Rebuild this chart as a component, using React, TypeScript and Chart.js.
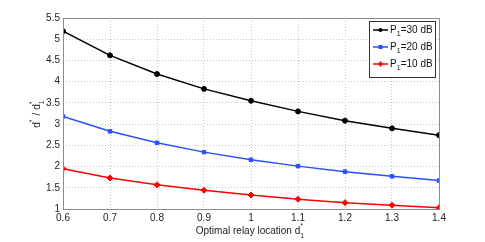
import React, { useEffect, useRef } from "react";
import { Chart, registerables } from "chart.js";

Chart.register(...registerables);

const relayLocations = [0.6, 0.7, 0.8, 0.9, 1.0, 1.1, 1.2, 1.3, 1.4];
const ratio30dB = [5.19, 4.62, 4.18, 3.83, 3.55, 3.3, 3.08, 2.9, 2.74];
const ratio20dB = [3.18, 2.83, 2.56, 2.34, 2.16, 2.01, 1.88, 1.77, 1.67];
const ratio10dB = [1.95, 1.73, 1.57, 1.44, 1.33, 1.23, 1.15, 1.09, 1.03];
const seriesNames = ["30", "20", "10"];
const seriesColors = ["#000000", "#2a4fff", "#ff0000"];
const seriesMarkers = ["circle", "rect", "rectRot"];

const FONT = "'Liberation Sans', Arial, sans-serif";

const overlayPlugin = {
  id: "overlay",
  afterDraw(chart: any) {
    const ctx = chart.ctx as CanvasRenderingContext2D;
    const ca = chart.chartArea;
    ctx.save();
    // frame
    ctx.strokeStyle = "#8c8c8c";
    ctx.lineWidth = 1;
    ctx.strokeRect(Math.round(ca.left) + 0.5, Math.round(ca.top) + 0.5, Math.round(ca.right - ca.left), Math.round(ca.bottom - ca.top));

    // x title
    ctx.fillStyle = "#222";
    ctx.font = `10px ${FONT}`;
    ctx.textBaseline = "alphabetic";
    const xt = "Optimal relay location d";
    const xw = ctx.measureText(xt).width;
    const xcx = (ca.left + ca.right) / 2;
    const xx = xcx - (xw + 6) / 2;
    const xy = 234;
    ctx.textAlign = "left";
    ctx.fillText(xt, xx, xy);
    ctx.font = `7px ${FONT}`;
    ctx.fillText("*", xx + xw, xy - 6);
    ctx.fillText("1", xx + xw, xy + 4);

    // y title
    ctx.save();
    ctx.translate(40, (ca.top + ca.bottom) / 2);
    ctx.rotate(-Math.PI / 2);
    ctx.font = `10px ${FONT}`;
    const p1 = "d";
    const p2 = " / d";
    const w1 = ctx.measureText(p1).width;
    const w2 = ctx.measureText(p2).width;
    const total = w1 + 4 + w2 + 5;
    let sx = -total / 2;
    ctx.fillText(p1, sx, 0);
    ctx.font = `7px ${FONT}`;
    ctx.fillText("*", sx + w1, -6);
    sx += w1 + 4;
    ctx.font = `10px ${FONT}`;
    ctx.fillText(p2, sx, 0);
    ctx.font = `7px ${FONT}`;
    ctx.fillText("*", sx + w2, -6);
    ctx.fillText("1", sx + w2, 4);
    ctx.restore();

    // legend
    const bx = 369.5, by = 21.5, bw = 66, bh = 56;
    ctx.fillStyle = "#fff";
    ctx.fillRect(bx, by, bw, bh);
    ctx.strokeStyle = "#333";
    ctx.strokeRect(bx, by, bw, bh);
    const rows = [30, 47, 64];
    seriesNames.forEach((name, i) => {
      const y = rows[i];
      ctx.strokeStyle = seriesColors[i];
      ctx.lineWidth = 1.5;
      ctx.beginPath();
      ctx.moveTo(373, y);
      ctx.lineTo(388, y);
      ctx.stroke();
      ctx.fillStyle = seriesColors[i];
      ctx.beginPath();
      if (i === 0) ctx.arc(380.5, y, 2, 0, Math.PI * 2);
      else if (i === 1) ctx.rect(378.5, y - 2, 4, 4);
      else {
        ctx.moveTo(380.5, y - 3);
        ctx.lineTo(383, y);
        ctx.lineTo(380.5, y + 3);
        ctx.lineTo(378, y);
        ctx.closePath();
      }
      ctx.fill();
      ctx.fillStyle = "#111";
      ctx.font = `10px ${FONT}`;
      ctx.textBaseline = "middle";
      ctx.fillText("P", 390, y);
      const pw = ctx.measureText("P").width;
      ctx.font = `7px ${FONT}`;
      ctx.fillText("1", 390 + pw, y + 4);
      ctx.font = `10px ${FONT}`;
      ctx.fillText(`=${name} dB`, 390 + pw + 4, y);
    });
    ctx.restore();
  },
};

export default function App() {
  const ref = useRef<HTMLCanvasElement>(null);
  useEffect(() => {
    document.body.style.margin = "0";
    const datasets = [ratio30dB, ratio20dB, ratio10dB].map((vals, i) => ({
      label: `P1=${seriesNames[i]} dB`,
      data: relayLocations.map((x, j) => ({ x, y: vals[j] })),
      borderColor: seriesColors[i],
      backgroundColor: seriesColors[i],
      borderWidth: 1.5,
      pointStyle: seriesMarkers[i] as any,
      pointRadius: i === 2 ? 3 : 2.5,
      pointBorderWidth: 1,
      tension: 0,
    }));
    const chart = new Chart(ref.current!, {
      type: "line",
      data: { datasets },
      plugins: [overlayPlugin],
      options: {
        animation: false,
        responsive: false,
        events: [],
        layout: { padding: { left: 0, right: 46, top: 18, bottom: 0 } },
        plugins: { legend: { display: false }, tooltip: { enabled: false } },
        scales: {
          x: {
            type: "linear",
            min: 0.6,
            max: 1.4,
            border: { display: false, dash: [1, 2] },
            grid: { color: "#c8c8c8", lineWidth: 1, drawTicks: false },
            ticks: {
              stepSize: 0.1,
              padding: 3,
              color: "#222",
              font: { family: FONT, size: 10 },
              callback: (v: any) => {
                const n = Math.round(Number(v) * 10) / 10;
                return n === 1 ? "1" : n.toFixed(1);
              },
            },
            afterFit: (s: any) => { s.height = 33; },
          },
          y: {
            min: 1,
            max: 5.5,
            border: { display: false, dash: [1, 2] },
            grid: { color: "#c8c8c8", lineWidth: 1, drawTicks: false },
            ticks: {
              stepSize: 0.5,
              padding: 3,
              color: "#222",
              font: { family: FONT, size: 10 },
              callback: (v: any) => String(Math.round(Number(v) * 10) / 10),
            },
            afterFit: (s: any) => { s.width = 63; },
          },
        },
      },
    });
    return () => chart.destroy();
  }, []);
  return (
    <div style={{ position: "absolute", left: 0, top: 0, width: 485, height: 242, background: "#fff" }}>
      <canvas ref={ref} width={485} height={242} style={{ width: 485, height: 242 }} />
    </div>
  );
}
